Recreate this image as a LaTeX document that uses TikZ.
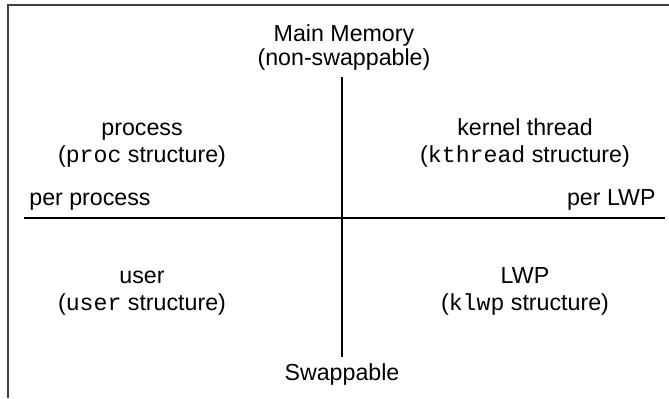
\documentclass[tikz,border=0pt]{standalone}
\usepackage{fontspec}
\setmainfont{Liberation Sans}
\setmonofont{Liberation Mono}
\begin{document}
\begin{tikzpicture}[x=0.5pt,y=-0.5pt,
  lbl/.style={inner sep=0pt,anchor=base,font=\fontsize{11.6}{13}\selectfont},
  frameline/.style={draw=black!75,line width=0.75pt},
  axisline/.style={draw=black,line width=0.6pt}]
\useasboundingbox (0,0) rectangle (669,398);
% frame (top and left edges)
\coordinate (ftl) at (8,5);
\coordinate (ftr) at (669,5);
\coordinate (fbl) at (8,398);
\draw[frameline] (fbl) -- (ftl) -- (ftr);
% axes
\coordinate (vt) at (342,77);
\coordinate (vb) at (342,357);
\coordinate (hl) at (24,218);
\coordinate (hr) at (665,218);
\draw[axisline] (vt) -- (vb);
\draw[axisline] (hl) -- (hr);
% labels
\node[lbl] (mm1) at (344,41) {Main Memory};
\node[lbl] (mm2) at (344,65) {(non-swappable)};
\node[lbl] (p1) at (142,135) {process};
\node[lbl] (p2) at (142,162) {(\texttt{proc} structure)};
\node[lbl] (k1) at (525,135) {kernel thread};
\node[lbl] (k2) at (525,162) {(\texttt{kthread} structure)};
\node[lbl,anchor=base west] (pp) at (29,205) {per process};
\node[lbl,anchor=base east] (pl) at (656,205) {per LWP};
\node[lbl] (u1) at (142,283) {user};
\node[lbl] (u2) at (142,310) {(\texttt{user} structure)};
\node[lbl] (l1) at (525,283) {LWP};
\node[lbl] (l2) at (525,310) {(\texttt{klwp} structure)};
\node[lbl] (sw) at (342,380) {Swappable};
\end{tikzpicture}
\end{document}
